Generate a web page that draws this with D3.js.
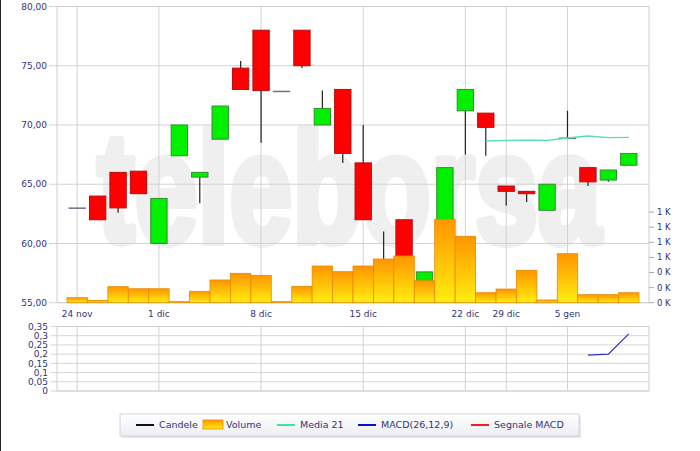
<!DOCTYPE html>
<html>
<head>
<meta charset="utf-8">
<script src="https://cdn.jsdelivr.net/npm/d3@7/dist/d3.min.js"></script>
<style>
body { margin: 0; background: #fff; }
svg { display: block; font-family: "DejaVu Sans", Verdana, sans-serif; }
.axis-label { fill: #333377; font-size: 9px; }
.vol-label { fill: #333377; font-size: 8.5px; }
.legend-label { fill: #333377; font-size: 9.5px; }
</style>
</head>
<body>
<svg id="chart" width="700" height="451"></svg>
<script>
"use strict";

// Trading days shown on the x axis
var dates = ["24 nov", "25 nov", "26 nov", "28 nov", "1 dic", "2 dic", "3 dic", "4 dic", "5 dic",
	"8 dic", "9 dic", "10 dic", "11 dic", "12 dic", "15 dic", "16 dic", "17 dic", "18 dic", "19 dic",
	"22 dic", "23 dic", "29 dic", "30 dic", "2 gen", "5 gen", "6 gen", "7 gen", "8 gen"];
var tickDates = ["24 nov", "1 dic", "8 dic", "15 dic", "22 dic", "29 dic", "5 gen"];

var openPrices  = [63.0, 64.0, 66.0, 66.1, 60.0, 67.4, 65.6, 68.8, 74.8, 78.0, 72.85, 78.0, 70.0, 73.0,
	66.8, 58.3, 62.0, 56.5, 60.5, 71.2, 71.0, 64.85, 64.4, 62.8, 68.9, 66.4, 65.35, 66.6];
var highPrices  = [63.0, 64.0, 66.0, 66.1, 63.8, 70.0, 66.0, 71.6, 75.4, 78.0, 72.85, 78.0, 72.9, 73.0,
	70.0, 61.0, 62.0, 57.6, 66.4, 73.0, 71.0, 64.85, 64.4, 65.0, 71.2, 66.4, 66.2, 67.6];
var lowPrices   = [63.0, 62.0, 62.6, 64.2, 60.0, 67.4, 63.4, 68.8, 73.0, 68.5, 72.85, 74.8, 70.0, 66.8,
	62.0, 57.5, 57.8, 56.5, 60.5, 67.5, 67.4, 63.2, 63.5, 62.8, 68.9, 64.85, 65.2, 66.6];
var closePrices = [63.0, 62.0, 63.0, 64.2, 63.8, 70.0, 66.0, 71.6, 73.0, 72.9, 72.85, 75.0, 71.4, 67.6,
	62.0, 58.0, 58.2, 57.6, 66.4, 73.0, 69.8, 64.4, 64.2, 65.0, 68.9, 65.2, 66.2, 67.6];

var volumes = [66, 32, 212, 185, 185, 13, 151, 301, 389, 363, 13, 217, 486, 411,
	486, 579, 619, 291, 1105, 879, 132, 181, 429, 36, 649, 106, 106, 132];

// 21-day moving average, only the last days are available
var media21 = [null, null, null, null, null, null, null, null, null, null, null, null, null, null,
	null, null, null, null, null, null, 68.65, 68.7, 68.72, 68.7, 68.9, 69.07, 68.93, 68.95];

var macd = [null, null, null, null, null, null, null, null, null, null, null, null, null, null,
	null, null, null, null, null, null, null, null, null, null, null, 0.195, 0.2, 0.31];

var priceTicks = [55, 60, 65, 70, 75, 80];
var volumeTicks = [0, 200, 400, 600, 800, 1000, 1200];
var macdTicks = [0, 0.05, 0.1, 0.15, 0.2, 0.25, 0.3, 0.35];

var legendItems = [
	{label: "Candele", type: "line", color: "#111111", x: 136},
	{label: "Volume", type: "box", color: "#ffb000", x: 203},
	{label: "Media 21", type: "line", color: "#44e0a0", x: 277},
	{label: "MACD(26,12,9)", type: "line", color: "#1111bb", x: 358},
	{label: "Segnale MACD", type: "line", color: "#ee2222", x: 471}
];

var svg = d3.select("#chart");
var plotLeft = 57, plotRight = 649;
var mainTop = 6.5, mainBottom = 302.7;
var macdTop = 326.5, macdBottom = 391;

var x = d3.scaleBand()
	.domain(dates)
	.range([67, 639])
	.padding(0);
var y = d3.scaleLinear().domain([55, 80]).range([mainBottom, mainTop]);
var yVol = d3.scaleLinear().domain([0, 1200]).range([mainBottom, mainBottom - 90.6]);
var yMacd = d3.scaleLinear().domain([0, 0.35]).range([macdBottom, macdTop]);

function center(d) { return x(d) + x.bandwidth() / 2; }
function comma(v, digits) { return d3.format(digits)(v).replace(".", ","); }

svg.append("rect").attr("width", 700).attr("height", 451).attr("fill", "#fff");
svg.append("rect").attr("width", 1).attr("height", 451).attr("fill", "#222");

var defs = svg.append("defs");
var volGrad = defs.append("linearGradient").attr("id", "volGrad")
	.attr("x1", 0).attr("y1", 0).attr("x2", 0).attr("y2", 1);
volGrad.append("stop").attr("offset", 0).attr("stop-color", "#ff9500");
volGrad.append("stop").attr("offset", 1).attr("stop-color", "#ffee10");
var legGrad = defs.append("linearGradient").attr("id", "legGrad")
	.attr("x1", 0).attr("y1", 0).attr("x2", 0).attr("y2", 1);
legGrad.append("stop").attr("offset", 0).attr("stop-color", "#ffffff");
legGrad.append("stop").attr("offset", 1).attr("stop-color", "#eceef3");

// Watermark, stretched vertically and stroked so the letters stay heavy
svg.append("text")
	.attr("transform", "translate(97,242) scale(1,1.3)")
	.attr("textLength", 504)
	.attr("lengthAdjust", "spacingAndGlyphs")
	.style("font-family", "'Liberation Sans', Arial, sans-serif")
	.style("font-weight", "bold")
	.style("font-size", "120px")
	.attr("fill", "#efefef")
	.attr("stroke", "#efefef")
	.attr("stroke-width", 6)
	.attr("stroke-linejoin", "round")
	.text("teleborsa");

// ---- Main panel grid and axes
var main = svg.append("g");
main.selectAll("line.hgrid").data(priceTicks).enter().append("line")
	.attr("x1", plotLeft - 8).attr("x2", plotRight)
	.attr("y1", function(d) { return y(d); }).attr("y2", function(d) { return y(d); })
	.attr("stroke", "#d2d2d2");
main.selectAll("line.vgrid").data(tickDates).enter().append("line")
	.attr("x1", center).attr("x2", center)
	.attr("y1", mainTop).attr("y2", mainBottom)
	.attr("stroke", "#d2d2d2");
main.append("rect")
	.attr("x", plotLeft).attr("y", mainTop)
	.attr("width", plotRight - plotLeft).attr("height", mainBottom - mainTop)
	.attr("fill", "none").attr("stroke", "#cfcfcf");

main.selectAll("text.ylab").data(priceTicks).enter().append("text")
	.attr("class", "axis-label")
	.attr("x", 47).attr("y", function(d) { return y(d); })
	.attr("dy", "0.35em").attr("text-anchor", "end")
	.text(function(d) { return comma(d, ".2f"); });

main.selectAll("text.xlab").data(tickDates).enter().append("text")
	.attr("class", "axis-label")
	.attr("x", center).attr("y", 317)
	.attr("text-anchor", "middle")
	.text(function(d) { return d; });

// ---- Candles
var bodyW = x.bandwidth() * 0.8;
var candles = main.selectAll("g.candle").data(dates).enter().append("g").attr("class", "candle");
candles.append("line")
	.attr("x1", center).attr("x2", center)
	.attr("y1", function(d, i) { return y(highPrices[i]); })
	.attr("y2", function(d, i) { return y(lowPrices[i]); })
	.attr("stroke", "#222").attr("stroke-width", 1.2);
candles.append("rect")
	.attr("x", function(d) { return center(d) - bodyW / 2; })
	.attr("width", bodyW)
	.attr("y", function(d, i) { return y(Math.max(openPrices[i], closePrices[i])); })
	.attr("height", function(d, i) { return Math.max(0.5, Math.abs(y(openPrices[i]) - y(closePrices[i]))); })
	.attr("fill", function(d, i) {
		if (openPrices[i] === closePrices[i]) return "none";
		return closePrices[i] > openPrices[i] ? "#00f000" : "#ff0000";
	})
	.attr("stroke", function(d, i) {
		if (openPrices[i] === closePrices[i]) return "#707080";
		return closePrices[i] > openPrices[i] ? "#2f8f2f" : "#b01010";
	})
	.attr("stroke-width", 1);

// ---- Volume bars (drawn over the candles)
main.selectAll("rect.vol").data(dates).enter().append("rect")
	.attr("class", "vol")
	.attr("x", function(d) { return x(d); })
	.attr("width", x.bandwidth())
	.attr("y", function(d, i) { return yVol(volumes[i]); })
	.attr("height", function(d, i) { return mainBottom - yVol(volumes[i]); })
	.attr("fill", "url(#volGrad)")
	.attr("stroke", "#e88a00").attr("stroke-width", 0.8);

// Volume axis on the right
main.selectAll("line.vtick").data(volumeTicks).enter().append("line")
	.attr("x1", plotRight).attr("x2", plotRight + 5)
	.attr("y1", function(d) { return yVol(d); }).attr("y2", function(d) { return yVol(d); })
	.attr("stroke", "#aaa");
main.selectAll("text.vlab").data(volumeTicks).enter().append("text")
	.attr("class", "vol-label")
	.attr("x", plotRight + 8).attr("y", function(d) { return yVol(d); })
	.attr("dy", "0.35em")
	.text(function(d) { return Math.round(d / 1000) + " K"; });

// Moving average
var avgLine = d3.line()
	.defined(function(d) { return d != null; })
	.x(function(d, i) { return center(dates[i]); })
	.y(function(d) { return y(d); });
main.append("path")
	.attr("d", avgLine(media21))
	.attr("fill", "none").attr("stroke", "#55e0a8").attr("stroke-width", 1.4);

// ---- MACD panel
var lower = svg.append("g");
lower.selectAll("line.hgrid").data(macdTicks).enter().append("line")
	.attr("x1", plotLeft - 6).attr("x2", plotRight)
	.attr("y1", function(d) { return yMacd(d); }).attr("y2", function(d) { return yMacd(d); })
	.attr("stroke", "#d6d6d6");
lower.selectAll("line.vgrid").data(tickDates).enter().append("line")
	.attr("x1", center).attr("x2", center)
	.attr("y1", macdTop).attr("y2", macdBottom)
	.attr("stroke", "#d2d2d2");
lower.append("rect")
	.attr("x", plotLeft).attr("y", macdTop)
	.attr("width", plotRight - plotLeft).attr("height", macdBottom - macdTop)
	.attr("fill", "none").attr("stroke", "#cfcfcf");
lower.selectAll("text.ylab").data(macdTicks).enter().append("text")
	.attr("class", "axis-label")
	.attr("x", 48).attr("y", function(d) { return yMacd(d); })
	.attr("dy", "0.35em").attr("text-anchor", "end")
	.text(function(d) { return comma(d, "~g"); });

var macdLine = d3.line()
	.defined(function(d) { return d != null; })
	.x(function(d, i) { return center(dates[i]); })
	.y(function(d) { return yMacd(d); });
lower.append("path")
	.attr("d", macdLine(macd))
	.attr("fill", "none").attr("stroke", "#3030c8").attr("stroke-width", 1.2);

// ---- Legend
var legend = svg.append("g");
legend.append("rect")
	.attr("x", 122).attr("y", 416).attr("width", 459).attr("height", 22)
	.attr("fill", "#e4e6ea");
legend.append("rect")
	.attr("x", 120).attr("y", 414).attr("width", 459).attr("height", 22)
	.attr("fill", "url(#legGrad)").attr("stroke", "#d0d4dc");

var item = legend.selectAll("g.item").data(legendItems).enter().append("g")
	.attr("transform", function(d) { return "translate(" + d.x + ",425)"; });
item.filter(function(d) { return d.type === "line"; }).append("line")
	.attr("x1", 0).attr("x2", 18).attr("y1", 0).attr("y2", 0)
	.attr("stroke", function(d) { return d.color; }).attr("stroke-width", 2);
item.filter(function(d) { return d.type === "box"; }).append("rect")
	.attr("x", 0).attr("y", -5).attr("width", 20).attr("height", 9)
	.attr("fill", "url(#volGrad)").attr("stroke", "#e88a00").attr("stroke-width", 0.8);
item.append("text")
	.attr("class", "legend-label")
	.attr("x", 23)
	.attr("dy", "0.35em")
	.text(function(d) { return d.label; });
</script>
</body>
</html>
